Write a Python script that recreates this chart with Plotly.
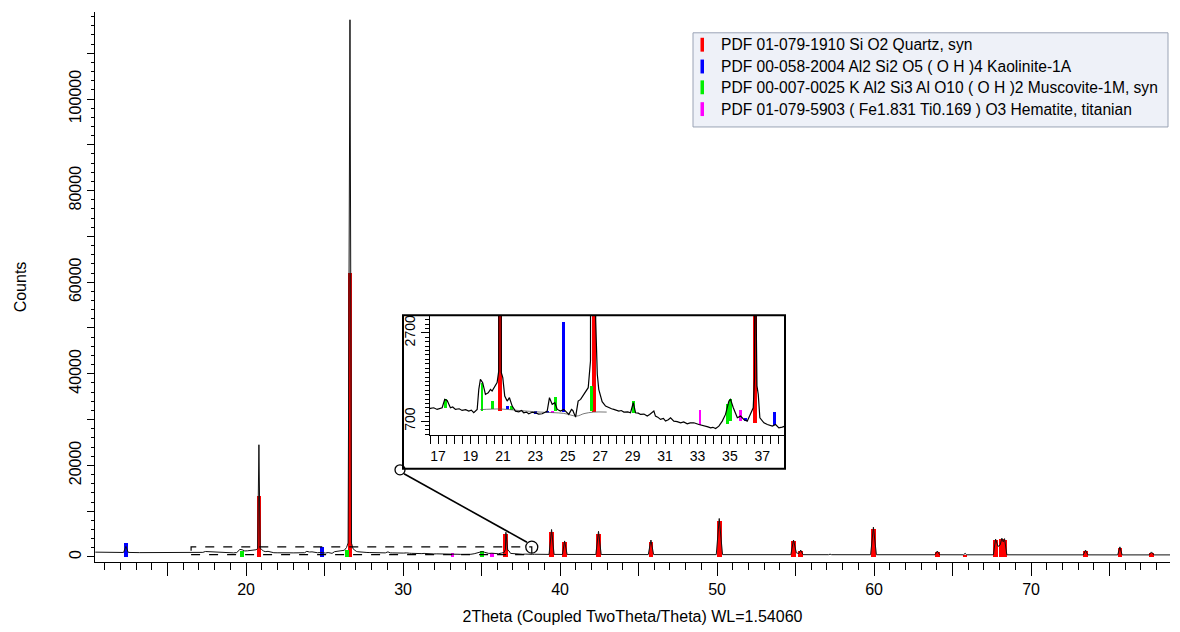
import plotly.graph_objects as go

# ---------------- data ----------------
obs_2theta = [10.4, 11.0, 11.8, 12.2, 12.35, 12.5, 13.2, 14.0, 15.0, 15.8, 16.3,
              16.52, 16.73, 16.94, 17.1, 17.25, 17.41, 17.56, 17.76, 17.9, 18.07, 18.3, 18.48, 18.7, 18.89,
              19.05, 19.2, 19.41, 19.51, 19.61, 19.75, 19.92, 20.09, 20.23, 20.33, 20.49, 20.64, 20.74,
              20.82, 20.9, 20.99, 21.11, 21.26, 21.4, 21.57, 21.77, 21.98, 22.15, 22.28, 22.45, 22.59,
              22.8, 23.0, 23.2, 23.42, 23.6, 23.73, 23.87, 24.04, 24.2, 24.35, 24.55, 24.75, 24.86,
              25.06, 25.23, 25.31, 25.48, 25.64, 25.79, 25.93, 26.09, 26.26, 26.4, 26.5, 26.62, 26.72,
              26.82, 26.91, 27.02, 27.12, 27.33, 27.53, 27.7, 27.84, 28.0, 28.15, 28.3, 28.46, 28.7,
              28.87, 29.04, 29.18, 29.35, 29.49, 29.7, 29.9, 30.05, 30.21, 30.31, 30.41, 30.55, 30.72,
              30.9, 31.03, 31.2, 31.34, 31.54, 31.75, 31.96, 32.15, 32.37, 32.55, 32.78, 33.09, 33.3,
              33.5, 33.65, 33.81, 33.95, 34.12, 34.32, 34.53, 34.73, 34.94, 35.04, 35.21, 35.35, 35.46,
              35.66, 35.86, 36.07, 36.28, 36.44, 36.52, 36.55, 36.67, 36.75, 36.85, 37.1, 37.31, 37.45,
              37.62, 37.82, 38.02, 38.23, 38.39, 38.6, 39.3, 39.46, 39.62, 40.15, 40.29, 40.45, 42.28,
              42.45, 42.62, 45.62, 45.79, 45.96, 49.95, 50.14, 50.35, 54.7, 54.87, 55.05, 55.2, 55.33,
              55.48, 57.1, 57.2, 57.3, 59.78, 59.96, 60.15, 63.88, 64.03, 64.18, 65.7, 65.8, 65.9, 67.6,
              67.74, 67.9, 68.03, 68.14, 68.23, 68.31, 68.46, 73.33, 73.47, 73.62, 75.52, 75.66, 75.8,
              77.52, 77.67, 77.82, 78.85]
obs_counts = [1050, 1000, 960, 980, 2300, 990, 950, 930, 910, 930, 960,
              988, 1003, 965, 990, 1003, 1193, 1170, 1003, 1020, 965, 980, 943, 960, 927,
              950, 890, 965, 1420, 1648, 1572, 1306, 1344, 1420, 1382, 1496, 1572, 1837,
              24500, 1799, 1685, 1269, 1155, 1231, 1041, 927, 912, 940, 890, 905, 867,
              900, 890, 860, 867, 900, 927, 1231, 1080, 1117, 965, 927, 965, 927,
              852, 965, 943, 791, 1155, 1193, 1269, 1382, 1458, 2064, 3050, 117300, 3000,
              1761, 1420, 1231, 1140, 1041, 1003, 980, 965, 950, 927, 940, 905, 910,
              890, 1117, 890, 880, 852, 860, 814, 850, 890, 927, 814, 790, 738,
              760, 700, 730, 776, 700, 690, 662, 680, 639, 660, 662, 624, 609,
              586, 570, 548, 560, 533, 586, 700, 852, 1155, 1193, 1003, 850, 776,
              814, 738, 700, 852, 1003, 1685, 5400, 1500, 1306, 776, 662, 624, 600,
              586, 624, 548, 564, 586, 580, 560, 6000, 560, 550, 3500, 550, 540,
              5600, 540, 520, 3700, 520, 510, 8400, 510, 500, 3700, 900, 750, 1500,
              500, 495, 600, 495, 490, 6500, 490, 480, 1300, 480, 470, 800, 470, 470,
              3900, 2300, 2600, 4100, 3300, 4000, 470, 460, 1500, 460, 450, 2200, 450,
              450, 1100, 450, 450]

# background curve under the fitted peaks (inset)
bkg_2theta = [19.6, 20.85, 22.0, 23.3, 24.75, 25.55, 26.0, 26.6, 27.4]
bkg_counts = [960, 975, 940, 905, 875, 815, 870, 905, 905]

phase_names = ["PDF 01-079-1910 Si O2 Quartz, syn",
               "PDF 00-058-2004 Al2 Si2 O5 ( O H )4 Kaolinite-1A",
               "PDF 00-007-0025 K Al2 Si3 Al O10 ( O H )2 Muscovite-1M, syn",
               "PDF 01-079-5903 ( Fe1.831 Ti0.169 ) O3 Hematite, titanian"]
phase_colors = ["#ff0000", "#0000ff", "#00ee00", "#ff00ff"]

# phase peaks in the main view (position, height)
quartz_pos = [20.82, 26.62, 36.54, 39.46, 40.29, 42.45, 45.79, 50.14, 54.87, 55.33, 59.96,
              64.03, 65.79, 67.74, 68.14, 68.31, 73.47, 75.66, 77.67]
quartz_h = [13400, 62000, 5000, 5500, 3200, 5000, 3300, 7800, 3400, 1300, 6000,
            1100, 500, 3600, 3900, 3700, 1200, 1900, 800]
kaol_pos = [12.35, 24.85]
kaol_h = [3000, 2200]
musc_pos = [19.75, 26.45, 35.0]
musc_h = [1400, 1500, 1200]
hem_pos = [33.15, 35.66]
hem_h = [950, 950]

# phase sticks in the inset (position, base, top)
quartz_in_pos = [20.8, 26.62, 36.55]
quartz_in_base = [930, 905, 650]
quartz_in_top = [25000, 62000, 5000]
kaol_in_pos = [21.3, 23.0, 23.73, 24.75, 35.96, 37.76]
kaol_in_base = [960, 860, 880, 900, 700, 600]
kaol_in_top = [1041, 927, 927, 2936, 776, 905]
musc_in_pos = [17.45, 19.7, 20.35, 21.52, 24.24, 26.45, 29.04, 34.85, 35.04]
musc_in_base = [990, 930, 960, 940, 930, 930, 890, 640, 700]
musc_in_top = [1193, 1550, 1140, 1041, 1231, 1496, 1140, 1080, 1193]
hem_in_pos = [24.04, 33.15, 35.66]
hem_in_base = [880, 600, 700]
hem_in_top = [927, 943, 943]

main_xticks = [15, 20, 25, 30, 35, 40, 45, 50, 55, 60, 65, 70, 75]
main_xlabels = ["", "20", "", "30", "", "40", "", "50", "", "60", "", "70", ""]
main_yticks = [0, 10000, 20000, 30000, 40000, 50000, 60000, 70000, 80000, 90000, 100000, 110000]
main_ylabels = ["0", "", "20000", "", "40000", "", "60000", "", "80000", "", "100000", ""]
inset_xticks = [v / 2 for v in range(33, 77)]
inset_xlabels = [str(int(v)) if v == int(v) and int(v) % 2 == 1 else "" for v in inset_xticks]
inset_yticks = [700, 2700]

x_title = "2Theta (Coupled TwoTheta/Theta) WL=1.54060"
y_title = "Counts"

# ---------------- figure ----------------
FONT = "Arial, Liberation Sans, sans-serif"
fig = go.Figure()

main_sets = [(quartz_pos, quartz_h, 0.3), (kaol_pos, kaol_h, 0.25),
             (musc_pos, musc_h, 0.25), (hem_pos, hem_h, 0.25)]
for (pos, h, w), name, col in zip(main_sets, phase_names, phase_colors):
    fig.add_trace(go.Bar(x=pos, y=h, width=w, marker=dict(color=col, line=dict(width=0)),
                         name=name, showlegend=False, xaxis="x", yaxis="y"))

fig.add_trace(go.Scatter(x=obs_2theta, y=obs_counts, mode="lines",
                         line=dict(color="#111111", width=1), showlegend=False,
                         xaxis="x", yaxis="y"))

inset_sets = [(quartz_in_pos, quartz_in_base, quartz_in_top, 0.26),
              (kaol_in_pos, kaol_in_base, kaol_in_top, 0.18),
              (musc_in_pos, musc_in_base, musc_in_top, 0.16),
              (hem_in_pos, hem_in_base, hem_in_top, 0.16)]
for (pos, base, top, w), name, col in zip(inset_sets, phase_names, phase_colors):
    fig.add_trace(go.Bar(x=pos, y=[t - b for t, b in zip(top, base)], base=base, width=w,
                         marker=dict(color=col, line=dict(width=0)), name=name,
                         showlegend=False, xaxis="x2", yaxis="y2"))

fig.add_trace(go.Scatter(x=bkg_2theta, y=bkg_counts, mode="lines", line=dict(color="#555555", width=0.8),
                         line_shape="spline", showlegend=False, xaxis="x2", yaxis="y2"))
fig.add_trace(go.Scatter(x=obs_2theta, y=obs_counts, mode="lines",
                         line=dict(color="#000000", width=1.2), showlegend=False,
                         xaxis="x2", yaxis="y2"))

axis_common = dict(showgrid=False, zeroline=False, showline=True, linecolor="black", linewidth=1,
                   ticks="outside", tickcolor="black")

# plot area in px: x 95..1170, y 12..567
def px(x):
    return (x - 95) / 1075.0

def py(y):
    return (567 - y) / 555.0

shapes = []
# dashed zoom rectangle in data coordinates
shapes.append(dict(type="rect", xref="x", yref="y", x0=16.5, x1=38.2, y0=500, y1=2200,
                   line=dict(color="black", width=1.2, dash="dash")))
# circle at the end of the zoom box
shapes.append(dict(type="circle", xref="x", yref="y", xsizemode="pixel", ysizemode="pixel",
                   xanchor=38.2, yanchor=2150, x0=-6, x1=6, y0=-6, y1=6,
                   line=dict(color="black", width=1.3)))
# inset frame
shapes.append(dict(type="rect", xref="paper", yref="paper", x0=px(403), x1=px(785), y0=py(473), y1=py(318),
                   line=dict(color="black", width=2)))
# inset corner circle
shapes.append(dict(type="circle", xref="paper", yref="paper", xsizemode="pixel", ysizemode="pixel",
                   xanchor=px(400), yanchor=py(474), x0=-5, x1=5, y0=-5, y1=5,
                   line=dict(color="black", width=1.3)))
# connector line
shapes.append(dict(type="line", xref="paper", yref="paper", x0=px(404), y0=py(478), x1=px(527), y1=py(547),
                   line=dict(color="black", width=1.6)))
# legend box
shapes.append(dict(type="rect", xref="paper", yref="paper", x0=px(693), x1=px(1168), y0=py(128), y1=py(33),
                   fillcolor="#eef1f8", line=dict(color="#9aa3b5", width=1), layer="below"))

annotations = []
row_y = [45, 67, 88, 110]
for name, col, ry in zip(phase_names, phase_colors, row_y):
    shapes.append(dict(type="rect", xref="paper", yref="paper", x0=px(700.5), x1=px(704),
                       y0=py(ry + 7), y1=py(ry - 7), fillcolor=col, line=dict(width=0)))
    annotations.append(dict(text=name, xref="paper", yref="paper", x=px(719), y=py(ry),
                            xanchor="left", yanchor="middle", showarrow=False,
                            font=dict(family=FONT, size=15.6, color="black")))

fig.update_layout(
    width=1180, height=632,
    margin=dict(l=95, r=10, t=12, b=65),
    paper_bgcolor="white", plot_bgcolor="white",
    barmode="overlay", bargap=0,
    font=dict(family=FONT, color="black"),
    showlegend=False,
    xaxis=dict(domain=[0, 1], range=[10.38, 78.85], tickvals=main_xticks, ticktext=main_xlabels,
               ticklen=13, tickfont=dict(size=16),
               minor=dict(dtick=1, tick0=0, ticklen=7, ticks="outside", tickcolor="black"),
               title=dict(text=x_title, font=dict(size=16), standoff=13), anchor="y", **axis_common),
    yaxis=dict(domain=[0, 1], range=[-1100, 119000], tickvals=main_yticks, ticktext=main_ylabels,
               ticklen=7, tickangle=-90, tickfont=dict(size=16),
               minor=dict(dtick=2000, tick0=0, ticklen=3, ticks="outside", tickcolor="black"),
               title=dict(text=y_title, font=dict(size=16), standoff=35), anchor="x", **axis_common),
    xaxis2=dict(domain=[px(430), px(785)], range=[16.5, 38.4], tickvals=inset_xticks, ticktext=inset_xlabels,
                ticklen=8, tickfont=dict(size=14), anchor="y2", **axis_common),
    yaxis2=dict(domain=[py(439), py(318)], range=[382, 3100], tickvals=inset_yticks,
                ticklen=8, tickangle=-90, tickfont=dict(size=14),
                minor=dict(dtick=100, tick0=0, ticklen=4, ticks="outside", tickcolor="black"),
                anchor="x2", **axis_common),
    shapes=shapes,
    annotations=annotations,
)

fig.write_html("out.html", config={"displayModeBar": False},
               post_script="document.body.style.margin='0';")
